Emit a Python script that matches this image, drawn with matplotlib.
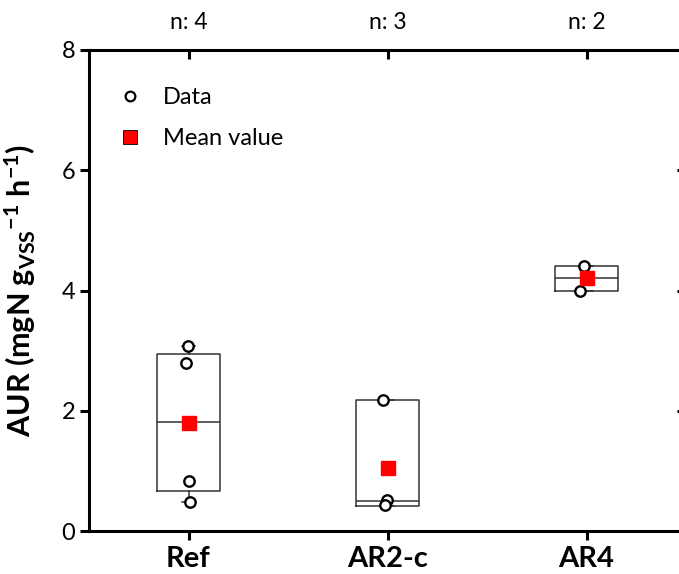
import matplotlib
matplotlib.use("Agg")
import matplotlib.pyplot as plt
from matplotlib.lines import Line2D

plt.rcParams['font.family'] = ['Lato', 'DejaVu Sans']
plt.rcParams['mathtext.fontset'] = 'custom'
plt.rcParams['mathtext.rm'] = 'Lato:bold'
plt.rcParams['mathtext.it'] = 'Lato:bold'
plt.rcParams['mathtext.bf'] = 'Lato:bold'

# groups
categories = ["Ref", "AR2-c", "AR4"]
n_labels = ["n: 4", "n: 3", "n: 2"]

# raw points (with the small x shift seen in the figure)
ref_y = [3.08, 2.80, 0.83, 0.49]
ref_dx = [-0.005, -0.015, 0.005, 0.01]
ar2c_y = [2.18, 0.52, 0.43]
ar2c_dx = [-0.025, -0.005, -0.015]
ar4_y = [4.41, 3.99]
ar4_dx = [-0.013, -0.033]

# box statistics as drawn
q1 = [0.665, 0.42, 4.00]
med = [1.815, 0.50, 4.21]
q3 = [2.94, 2.18, 4.41]
whislo = [0.49, 0.42, 4.00]
whishi = [3.08, 2.18, 4.41]

fig = plt.figure(figsize=(6.79, 5.74), dpi=100)
ax = fig.add_axes([89/679, 43/574, 597/679, 481/574])

pos = [1, 2, 3]
stats = []
for i in range(3):
    stats.append(dict(med=med[i], q1=q1[i], q3=q3[i], whislo=whislo[i],
                      whishi=whishi[i], fliers=[], label=categories[i]))
ax.bxp(stats, positions=pos, widths=0.32, showfliers=False,
       boxprops=dict(color="#333333", linewidth=1.1),
       medianprops=dict(color="#333333", linewidth=1.1),
       whiskerprops=dict(color="#333333", linewidth=1.1),
       capprops=dict(color="#333333", linewidth=1.1), capwidths=0.07)

groups = [(ref_y, ref_dx), (ar2c_y, ar2c_dx), (ar4_y, ar4_dx)]
for p, (ys, dxs) in zip(pos, groups):
    xs = [p + d for d in dxs]
    ax.plot(xs, ys, linestyle="none", marker="o", markersize=7.5,
            markerfacecolor="white", markeredgecolor="black",
            markeredgewidth=1.7, zorder=4)
    ax.plot([p], [sum(ys) / len(ys)], linestyle="none", marker="s",
            markersize=10, color="#ff0000", zorder=5)

ax.set_xlim(0.5, 3.5)
ax.set_ylim(0, 8)
ax.set_xticks(pos)
ax.set_xticklabels(categories, fontsize=21, fontweight="bold")
ax.set_yticks([0, 2, 4, 6, 8])
ax.tick_params(axis="y", labelsize=17, width=2.2, length=6.5, direction="out")
ax.tick_params(axis="x", width=2.2, length=6.5, direction="out", pad=4)
for s in ax.spines.values():
    s.set_linewidth(2.2)

# top / right inward ticks
sec = ax.secondary_xaxis("top")
sec.set_xticks(pos)
sec.set_xticklabels([])
sec.tick_params(direction="in", width=2.2, length=6.5)
secy = ax.secondary_yaxis("right")
secy.set_yticks([0, 2, 4, 6, 8])
secy.set_yticklabels([])
secy.tick_params(direction="in", width=2.2, length=6.5)

for p, t in zip(pos, n_labels):
    ax.annotate(t, xy=(p, 1), xycoords=("data", "axes fraction"),
                xytext=(0, 20), textcoords="offset points",
                ha="center", va="center", fontsize=16.5)

ax.set_ylabel(r"AUR (mgN g$_{VSS}$$^{-1}$ h$^{-1}$)", fontsize=22,
              fontweight="bold", labelpad=17)

handles = [Line2D([], [], linestyle="none", marker="o", markersize=7,
                  markerfacecolor="white", markeredgecolor="black",
                  markeredgewidth=1.6),
           Line2D([], [], linestyle="none", marker="s", markersize=10,
                  color="#ff0000", markeredgecolor="black",
                  markeredgewidth=0.6)]
ax.legend(handles, ["Data", "Mean value"], loc="upper left",
          bbox_to_anchor=(-0.006, 0.992), frameon=False, fontsize=17,
          handlelength=1.0, handletextpad=0.9, labelspacing=0.85,
          borderaxespad=1.0)

fig.savefig("out.png", dpi=100)
